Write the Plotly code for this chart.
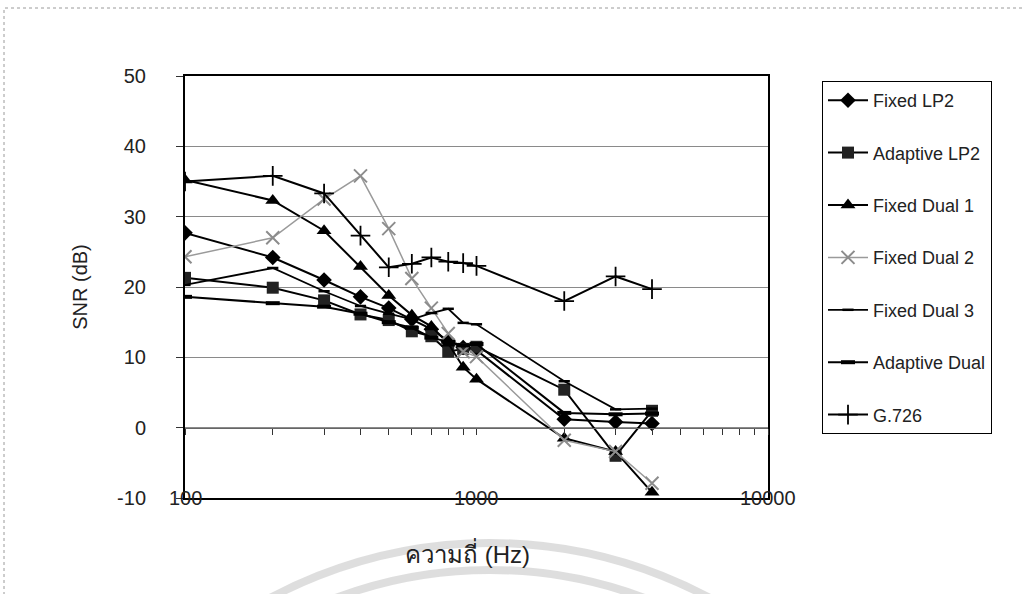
import plotly.graph_objects as go

# Frequencies (Hz) and SNR (dB) per coder
freqs = [100, 200, 300, 400, 500, 600, 700, 800, 900, 1000, 2000, 3000, 4000]

fixed_lp2 = [27.7, 24.2, 21.0, 18.6, 17.0, 15.4, 14.0, 12.3, 11.4, 11.0, 1.2, 0.8, 0.6]
adaptive_lp2 = [21.3, 19.9, 18.1, 16.1, 15.3, 13.7, 13.0, 10.8, 11.2, 11.5, 5.4, -4.0, 2.4]
fixed_dual1 = [35.2, 32.3, 28.0, 22.9, 18.8, 16.0, 14.4, 12.0, 8.6, 6.9, -1.5, -3.4, -9.2]
fixed_dual2 = [24.3, 27.0, 32.5, 35.8, 28.3, 21.2, 17.0, 13.4, 10.8, 10.1, -1.8, -3.4, -7.9]
fixed_dual3 = [20.3, 22.7, 19.4, 17.3, 16.2, 15.4, 16.3, 16.9, 14.9, 14.7, 6.6, 2.6, 2.7]
adaptive_dual = [18.6, 17.7, 17.2, 16.2, 15.0, 14.2, 12.8, 12.2, 11.7, 11.9, 2.1, 1.9, 2.0]
g726 = [35.0, 35.8, 33.3, 27.3, 22.8, 23.3, 24.2, 23.6, 23.4, 23.0, 18.0, 21.5, 19.7]

x_tick_vals = [100, 1000, 10000]
x_tick_text = ["100", "1000", "10000"]
y_tick_vals = [-10, 0, 10, 20, 30, 40, 50]
y_tick_text = ["-10", "0", "10", "20", "30", "40", "50"]

FONT = "Liberation Sans, Arial, sans-serif"
W, H = 1023, 594
L, R, T, B = 185, 255, 76, 96
PW, PH = W - L - R, H - T - B


def px_x(p):
    return (p - L) / PW


def px_y(p):
    return (H - B - p) / PH


series = [
    ("Fixed LP2", fixed_lp2, dict(symbol="diamond", size=12, color="black"), dict(color="black", width=2)),
    ("Adaptive LP2", adaptive_lp2, dict(symbol="square", size=12, color="#222"), dict(color="black", width=2)),
    ("Fixed Dual 1", fixed_dual1, dict(symbol="triangle-up", size=13, color="black"), dict(color="black", width=2)),
    ("Fixed Dual 2", fixed_dual2, dict(symbol="x-thin-open", size=13, color="#8c8c8c",
                                       line=dict(color="#8c8c8c", width=2)), dict(color="#9a9a9a", width=1.5)),
    ("Fixed Dual 3", fixed_dual3, dict(symbol="line-ew-open", size=8, color="black",
                                       line=dict(color="black", width=2.5)), dict(color="black", width=1.8)),
    ("Adaptive Dual", adaptive_dual, dict(symbol="line-ew-open", size=10, color="black",
                                          line=dict(color="black", width=4)), dict(color="black", width=2)),
    ("G.726", g726, dict(symbol="cross-thin-open", size=14, color="black",
                         line=dict(color="black", width=1.8)), dict(color="black", width=2)),
]

fig = go.Figure()
for i, (name, vals, mk, ln) in enumerate(series):
    fig.add_trace(go.Scatter(
        x=freqs, y=vals, name=name, mode="lines+markers",
        marker=mk, line=ln, legendgroup=f"g{i}",
        xaxis="x2" if name == "G.726" else "x",
    ))

# x tick labels sit on the bottom axis line
annotations = []
for k, t in enumerate(x_tick_text):
    annotations.append(dict(
        x=k / (len(x_tick_text) - 1), xref="paper", y=0, yref="paper",
        text=t, showarrow=False, xanchor="center", yanchor="middle",
        font=dict(family=FONT, size=20, color="#222"),
    ))
annotations.append(dict(
    x=px_x(467), y=px_y(553), xref="paper", yref="paper",
    text="ความถี่ (Hz)", showarrow=False, xanchor="center", yanchor="middle",
    font=dict(family=FONT, size=24, color="#222"),
))

shapes = [
    # outer chart frame
    dict(type="rect", xref="paper", yref="paper",
         x0=px_x(4), x1=px_x(1040), y0=px_y(610), y1=px_y(8),
         line=dict(color="#9a9a9a", width=1, dash="dot"), layer="below"),
    # faint seal watermark arcs
    dict(type="circle", xref="paper", yref="paper",
         x0=px_x(490 - 467), x1=px_x(490 + 467), y0=px_y(1010 + 467), y1=px_y(1010 - 467),
         line=dict(color="rgba(200,200,200,0.6)", width=8), layer="below"),
    dict(type="circle", xref="paper", yref="paper",
         x0=px_x(490 - 440), x1=px_x(490 + 440), y0=px_y(1010 + 440), y1=px_y(1010 - 440),
         line=dict(color="rgba(200,200,200,0.6)", width=8), layer="below"),
]

fig.update_layout(
    width=W, height=H,
    margin=dict(l=L, r=R, t=T, b=B, autoexpand=False),
    paper_bgcolor="white", plot_bgcolor="white",
    font=dict(family=FONT, size=18, color="#222"),
    showlegend=True,
    legend=dict(
        x=px_x(822), y=px_y(81), xanchor="left", yanchor="top",
        bordercolor="black", borderwidth=1, bgcolor="white",
        font=dict(family=FONT, size=18, color="#222"),
        tracegroupgap=26, itemwidth=40,
    ),
    xaxis=dict(
        type="log", range=[2, 4], showgrid=False, showticklabels=False, ticks="",
        showline=True, linecolor="black", linewidth=1.5, mirror=True, zeroline=False,
    ),
    xaxis2=dict(
        type="log", range=[2, 4], overlaying="x", anchor="free", position=1 / 6,
        showgrid=False, showticklabels=False, showline=True, linecolor="#666", linewidth=1,
        ticks="outside", ticklen=6, tickcolor="#333", dtick=1,
        minor=dict(ticks="outside", ticklen=6, tickcolor="#333", dtick="D1"),
        zeroline=False,
    ),
    yaxis=dict(
        range=[-10, 50], tickvals=y_tick_vals, ticktext=y_tick_text,
        showgrid=True, gridcolor="#8a8a8a", gridwidth=1,
        ticks="outside", ticklen=7, tickcolor="#333", ticklabelstandoff=26,
        tickfont=dict(family=FONT, size=20, color="#222"),
        showline=True, linecolor="black", linewidth=2, mirror=True, zeroline=False,
        title=dict(text="SNR (dB)", standoff=24, font=dict(family=FONT, size=20, color="#222")),
    ),
    annotations=annotations,
    shapes=shapes,
)

fig.write_html("out.html")
